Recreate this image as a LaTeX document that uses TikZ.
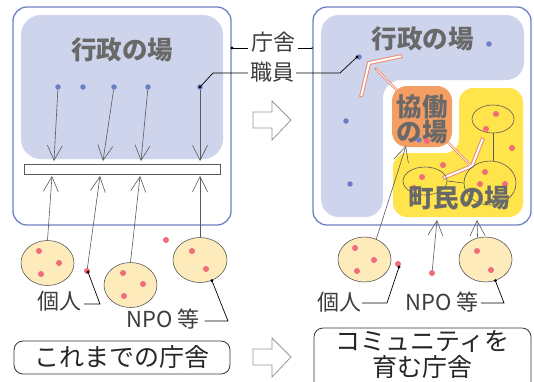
\documentclass[tikz,border=0pt]{standalone}
\usepackage{fontspec}
\setmainfont{Noto Sans CJK JP}
\usetikzlibrary{arrows.meta,shapes.geometric}
\definecolor{panelc}{RGB}{112,128,196}
\definecolor{gyoc}{RGB}{205,212,236}
\definecolor{bdotc}{RGB}{108,126,196}
\definecolor{pdotc}{RGB}{240,108,120}
\definecolor{creamc}{RGB}{253,235,188}
\definecolor{yelc}{RGB}{255,228,76}
\definecolor{orgc}{RGB}{245,158,100}
\definecolor{bandc}{RGB}{236,140,110}
\definecolor{bigtc}{RGB}{105,105,105}
\definecolor{labc}{RGB}{60,60,60}
\definecolor{flowc}{RGB}{90,90,90}
\definecolor{blockc}{RGB}{150,150,150}
\begin{document}
\begin{tikzpicture}[x=1pt,y=-1pt,
  panelbox/.style={draw=panelc, line width=1.3pt, fill=white, rounded corners=14pt, minimum width=218pt, minimum height=218pt, inner sep=0},
  gyo/.style={fill=gyoc, rounded corners=20pt},
  bdot/.style={circle, fill=bdotc, inner sep=0, minimum size=5.5pt},
  pdot/.style={circle, fill=pdotc, inner sep=0, minimum size=6pt},
  grp/.style={ellipse, draw=flowc, line width=0.6pt, fill=creamc, inner sep=0, minimum width=53pt, minimum height=45pt},
  ring/.style={ellipse, draw=flowc, line width=0.6pt, inner sep=0},
  flow/.style={draw=flowc, line width=0.6pt, -{Straight Barb[length=15pt,width=15pt]}},
  leader/.style={draw=black, line width=0.7pt},
  bigt/.style={font=\fontsize{25.5}{25}\selectfont\bfseries, text=bigtc, inner sep=0, align=center},
  labt/.style={font=\fontsize{22}{22}\selectfont, text=labc, inner sep=0},
  capbox/.style={draw=black!80, line width=0.8pt, rounded corners=9pt, fill=white},
  capt/.style={font=\fontsize{25}{26}\selectfont, text=black!85, inner sep=0, align=center},
  blockarrow/.style={draw=blockc, line width=0.8pt, fill=white},
  band/.style={draw=bandc, line width=4pt, line join=miter},
  bandin/.style={draw=white, line width=2pt, line join=miter},
  shaft/.style={draw=bandc, line width=2.4pt},
  shaftin/.style={draw=white, line width=0.7pt}
]
\useasboundingbox (0,0) rectangle (534,381);
\clip (0,0) rectangle (534,381);

% ---------------- left panel ----------------
\node[panelbox] (Lp) at (122,116) {};
\node[gyo, minimum width=202pt, minimum height=144pt, inner sep=0] (Lg) at (122,87) {};
\node[bigt] (Lgt) at (122,50) {行政の場};
\node[draw=flowc, line width=0.6pt, fill=white, minimum width=196pt, minimum height=10pt, inner sep=0] (bar) at (122,169) {};
\node[bdot] (ld1) at (58,87) {};
\node[bdot] (ld2) at (83,87) {};
\node[bdot] (ld3) at (114,87) {};
\node[bdot] (ld4) at (148,87) {};
\node[bdot] (ld5) at (200,87) {};
\coordinate (lt1) at (54,161);
\coordinate (lt2) at (103,161);
\coordinate (lt3) at (141,161);
\coordinate (lt4) at (200,161);
\draw[flow] (ld1) -- (lt1);
\draw[flow] (ld3) -- (lt2);
\draw[flow] (ld4) -- (lt3);
\draw[flow] (ld5) -- (lt4);

\node[grp] (le1) at (47.5,263) {};
\node[grp] (le2) at (130.5,285) {};
\node[grp, minimum width=54pt] (le3) at (200,260) {};
\node[pdot] at (39,251) {};
\node[pdot] at (59,263) {};
\node[pdot] at (41,274) {};
\node[pdot] at (123,273) {};
\node[pdot] at (143,284) {};
\node[pdot] at (124,296) {};
\node[pdot] at (192,251) {};
\node[pdot] at (206,269) {};
\node[pdot] (lp1) at (87,271) {};
\node[pdot] (lp2) at (166,240) {};
\coordinate (lu1) at (52,176);
\coordinate (lu2) at (100,176);
\coordinate (lu3) at (140,176);
\coordinate (lu4) at (200,176);
\draw[flow] (le1.north) -- (lu1);
\draw[flow] (lp1) -- (lu2);
\draw[flow] (le2.north) -- (lu3);
\draw[flow] (le3.north) -- (lu4);

\node[labt] (lk) at (59,301) {個人};
\node[labt] (ln) at (163,319) {NPO 等};
\coordinate (lk0) at ([shift={(1,1)}]lp1.center);
\draw[leader] (lk0) -- (100,304) -- ([xshift=3pt,yshift=-3pt]lk.east);
\fill (lk0) circle (1.6pt);
\draw[leader] (le3.-60) -- (228,321) -- ([xshift=5pt,yshift=-2pt]ln.east);
\fill (le3.-60) circle (1.6pt);

\node[capbox, capt, minimum width=216pt, minimum height=33pt] (Lc) at (122,357.5) {これまでの庁舎};

% ---------------- middle ----------------
\node[labt] (tch) at (273,42) {庁舎};
\node[labt] (tsh) at (272,72) {職員};
\coordinate (chL) at (232,48);
\coordinate (chR) at (313,48);
\draw[leader] (chL) -- ([xshift=-3pt,yshift=-6pt]tch.west);
\draw[leader] ([xshift=3pt,yshift=-6pt]tch.east) -- (chR);
\fill (chL) circle (1.6pt);
\fill (chR) circle (1.6pt);

\draw[blockarrow] (253,112) -- (272,112) -- (272,101) -- (291,120) -- (272,140) -- (272,128) -- (253,128) -- cycle;
\draw[blockarrow] (253,349) -- (272,349) -- (272,338) -- (291,357) -- (272,377) -- (272,365) -- (253,365) -- cycle;

% ---------------- right panel ----------------
\node[panelbox] (Rp) at (422,116) {};
\path[gyo, rounded corners=18pt] (321,15) -- (524,15) -- (524,80) -- (383,80) -- (383,217) -- (321,217) -- cycle;
\fill[yelc, rounded corners=14pt] (459,88) -- (523,88) -- (523,217) -- (393,217) -- (393,153) -- (459,153) -- cycle;

% cooperation arrow (outlined band)
\draw[shaft] (375,68) -- (472,167);
\draw[band] (361,97) -- (369,63) -- (402,56);
\draw[band] (443,178) -- (472,166) -- (483,138);
\draw[shaftin, shorten <=2pt, shorten >=2pt] (375,68) -- (472,167);
\draw[bandin, shorten <=1pt, shorten >=1pt] (361,97) -- (369,63) -- (402,56);
\draw[bandin, shorten <=1pt, shorten >=1pt] (443,178) -- (472,166) -- (483,138);

\node[fill=orgc, rounded corners=15pt, minimum width=60pt, minimum height=61pt, inner sep=0] (kyo) at (422,116.5) {};
\node[bigt] (kyot) at (422,119.5) {協働\\の場};

\node[ring, minimum width=42pt, minimum height=28pt] (c1) at (493,119) {};
\node[ring, minimum width=44pt, minimum height=28pt] (c2) at (425,181) {};
\node[ring, minimum width=52pt, minimum height=44pt] (c3) at (490,183) {};
\draw[draw=flowc, line width=0.6pt] (c1.south) -- (c1.south |- c3.north);
\draw[draw=flowc, line width=0.6pt] (c2.east) -- (c3.west);

\node[pdot] at (496,114) {};
\node[pdot] at (486,129) {};
\node[pdot] at (512,148) {};
\node[pdot] at (443,165) {};
\node[pdot] at (422,177) {};
\node[pdot] at (414,188) {};
\node[pdot] at (485,172) {};
\node[pdot] at (480,184) {};
\node[pdot] at (505,184) {};
\node[pdot] at (427,141) {};

\node[bdot] (rd1) at (489,44) {};
\node[bdot] (rd2) at (359,57) {};
\node[bdot] (rd3) at (346,121) {};
\node[bdot] (rd4) at (350,184) {};
\node[bdot] (rd5) at (419,140) {};

\node[bigt] (Rgt) at (422.5,39) {行政の場};
\node[bigt] (Rct) at (459,198.5) {町民の場};

% leaders for 職員
\draw[leader] ([xshift=-2pt,yshift=-1pt]tsh.west) -- (213,73) -- (ld5.center);
\fill (ld5.center) circle (1.6pt);
\coordinate (rd2b) at ([xshift=-2pt]rd2.center);
\draw[leader] ([xshift=2pt,yshift=-1pt]tsh.east) -- (340,73) -- (rd2b);
\fill (rd2b) circle (1.6pt);

\node[grp] (er1) at (364.5,259.5) {};
\node[grp] (er2) at (485.5,259.5) {};
\node[pdot] at (355,248) {};
\node[pdot] at (374,260) {};
\node[pdot] at (357,271) {};
\node[pdot] at (477,251) {};
\node[pdot] at (491,270) {};
\node[pdot] (rp1) at (398,264) {};
\node[pdot] (rp2) at (432,273) {};
\coordinate (rt1) at (406,146);
\coordinate (rt2) at (437,220);
\coordinate (rt3) at (477,220);
\draw[flow] (er1.60) -- (rt1);
\draw[flow] (rp2) -- (rt2);
\draw[flow] (er2.110) -- (rt3);

\node[labt] (rk) at (339,302) {個人};
\node[labt] (rn) at (442,302) {NPO 等};
\coordinate (rk0) at ([shift={(1,3)}]rp1.center);
\draw[leader] (rk0) -- (387,303) -- ([xshift=1pt,yshift=-1pt]rk.east);
\fill (rk0) circle (1.6pt);
\draw[leader] (er2.-65) -- (504,303) -- ([xshift=2pt,yshift=-1pt]rn.east);
\fill (er2.-65) circle (1.6pt);

\node[capbox, minimum width=217pt, minimum height=80pt] (Rc) at (422.5,368) {};
\node[capt] (Rctx) at (422.5,355) {コミュニティを\\育む庁舎};
\end{tikzpicture}
\end{document}
